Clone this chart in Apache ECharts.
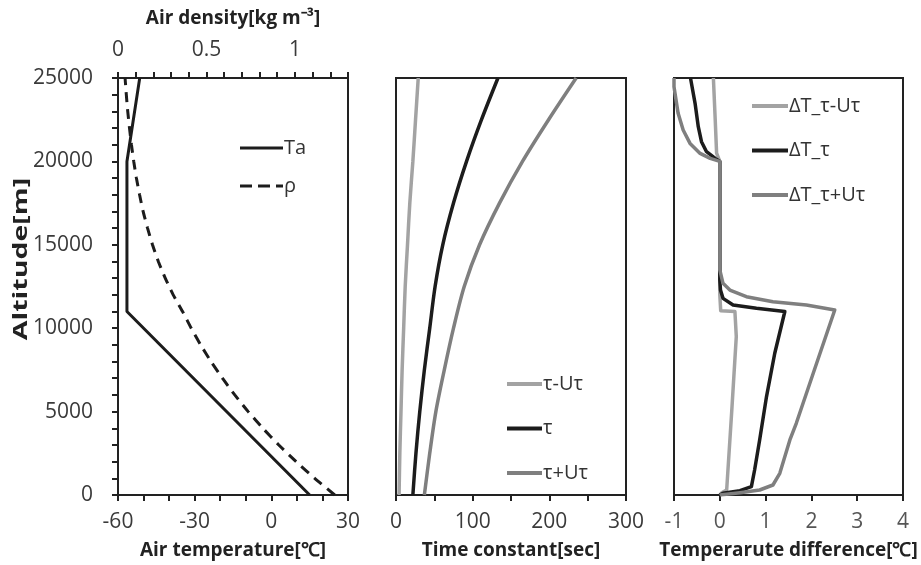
<!DOCTYPE html>
<html>
<head>
<meta charset="utf-8">
<script src="https://cdn.jsdelivr.net/npm/echarts@6/dist/echarts.min.js"></script>
<style>
html,body{margin:0;padding:0;background:#fff;}
#chart{width:921px;height:565px;}
</style>
</head>
<body>
<div id="chart"></div>
<script>
// ---- Panel 1: air temperature and density vs altitude ----
const altTa = [0, 11000, 20000, 25000];
const ta = [15, -56.5, -56.5, -51.5];
const altRho = [0,1000,2000,3000,4000,5000,6000,7000,8000,9000,10000,11000,12000,13000,14000,15000,16000,17000,18000,19000,20000,21000,22000,23000,24000,25000];
const rho = [1.225,1.112,1.007,0.909,0.819,0.736,0.660,0.590,0.526,0.467,0.414,0.365,0.312,0.267,0.228,0.195,0.167,0.142,0.122,0.104,0.089,0.076,0.065,0.055,0.047,0.040];

// ---- Panel 2: time constants ----
const altTau = [0,2500,5000,7500,10000,12500,15000,17500,20000,22500,25000];
const tauLow = [4,5,6.5,8,10,12,15,18,22,25.5,29];
const tauMid = [22,26,31,37,44,51,61,75,92,111.5,133];
const tauHigh = [37,44,52,63,75,89,109,135,165,199,235];

// ---- Panel 3: temperature differences ----
const altDLow = [0,150,300,5000,9500,11000,11050,12000,20000,20500,22500,25000];
const dLow = [0,0.05,0.15,0.26,0.36,0.33,0.02,0,0,-0.07,-0.1,-0.14];
const altDMid = [0,100,260,500,1500,3300,5900,8500,11000,11190,11390,11790,12290,12900,20000,20180,20580,21180,22080,23480,25000];
const dMid = [0,0.07,0.44,0.69,0.76,0.87,1.02,1.2,1.42,0.8,0.29,0.07,0.015,0,0,-0.1,-0.29,-0.4,-0.47,-0.54,-0.64];
const altDHigh = [0,140,300,600,1300,3300,4300,7300,11090,11390,11590,11890,12290,12690,13500,20000,20180,20480,21080,21880,22880,24480,25000];
const dHigh = [0,0.44,0.87,1.16,1.31,1.53,1.67,2.04,2.51,1.89,1.16,0.58,0.22,0.07,0,0,-0.21,-0.43,-0.65,-0.8,-0.91,-1.0,-1.0];

// tick / label settings
const yTicks = {min: 0, max: 25000, interval: 5000};
const tempTicks = {min: -60, max: 30, interval: 30};
const rhoTicks = {min: 0, max: 1.3, interval: 0.1};
const tcTicks = {min: 0, max: 300, interval: 50};
const dtTicks = {min: -1, max: 4, interval: 1};

const FONT = '"Open Sans"';
const LIGHT = '#a3a3a3', DARK = '#1c1c1c', MID = '#7f7f7f';

function pairs(xs, ys) { return xs.map((v, i) => [v, ys[i]]); }

const axisLineStyle = {show: true, onZero: false, lineStyle: {color: '#222', width: 2}};
const tickStyle = {show: true, length: 6, lineStyle: {color: '#222', width: 2}};
const labelStyle = {color: '#3a3a3a', fontSize: 21, fontFamily: FONT};
const nameStyle = {color: '#222', fontSize: 19, fontWeight: 'bold', fontFamily: FONT};
const legendText = {fontSize: 20, color: '#333', fontFamily: FONT, lineHeight: 14, padding: [0, 0, 0, -4]};

const chart = echarts.init(document.getElementById('chart'));
const grids = [
  {left: 118, top: 78, width: 230, height: 417},
  {left: 396, top: 78, width: 230, height: 417},
  {left: 674, top: 78, width: 229, height: 417}
].map(g => Object.assign(g, {show: true, borderColor: '#222', borderWidth: 2, containLabel: false}));

const option = {
  animation: false,
  backgroundColor: '#fff',
  grid: grids,
  xAxis: [
    Object.assign({type: 'value', gridIndex: 0, position: 'bottom', name: 'Air temperature[℃]',
      nameLocation: 'middle', nameGap: 46, nameTextStyle: nameStyle,
      axisLine: axisLineStyle, splitLine: {show: false}, axisTick: tickStyle,
      minorTick: {show: true, splitNumber: 3, length: 6, lineStyle: {color: '#222', width: 2}},
      axisLabel: Object.assign({margin: 17}, labelStyle)}, tempTicks),
    Object.assign({type: 'value', gridIndex: 0, position: 'top', name: 'Air density[kg m⁻³]',
      nameLocation: 'middle', nameGap: 50, nameTextStyle: nameStyle,
      axisLine: axisLineStyle, splitLine: {show: false}, axisTick: tickStyle,
      axisLabel: Object.assign({margin: 17, formatter: v => (Math.abs(v * 2 - Math.round(v * 2)) < 1e-6 ? String(Math.round(v * 2) / 2) : '')}, labelStyle)}, rhoTicks),
    Object.assign({type: 'value', gridIndex: 1, position: 'bottom', name: 'Time constant[sec]',
      nameLocation: 'middle', nameGap: 46, nameTextStyle: nameStyle,
      axisLine: axisLineStyle, splitLine: {show: false}, axisTick: tickStyle,
      axisLabel: Object.assign({margin: 17, formatter: v => (v % 100 === 0 ? String(v) : '')}, labelStyle)}, tcTicks),
    Object.assign({type: 'value', gridIndex: 2, position: 'bottom', name: 'Temperarute difference[℃]',
      nameLocation: 'middle', nameGap: 46, nameTextStyle: nameStyle,
      axisLine: axisLineStyle, splitLine: {show: false}, axisTick: tickStyle,
      axisLabel: Object.assign({margin: 17}, labelStyle, {color: '#555'})}, dtTicks)
  ],
  yAxis: [
    Object.assign({type: 'value', gridIndex: 0, axisLine: axisLineStyle, splitLine: {show: false},
      axisTick: tickStyle,
      minorTick: {show: true, splitNumber: 5, length: 6, lineStyle: {color: '#222', width: 2}},
      axisLabel: Object.assign({margin: 25, formatter: v => String(v)}, labelStyle)}, yTicks),
    Object.assign({type: 'value', gridIndex: 1, axisLine: axisLineStyle, splitLine: {show: false},
      axisTick: {show: false}, axisLabel: {show: false}}, yTicks),
    Object.assign({type: 'value', gridIndex: 2, axisLine: axisLineStyle, splitLine: {show: false},
      axisTick: {show: false}, axisLabel: {show: false}}, yTicks)
  ],
  legend: [
    {data: [{name: 'Ta', icon: 'rect'}, {name: 'ρ', icon: 'path://M0,0h12v3h-12z M18,0h12v3h-12z M36,0h7v3h-7z'}],
      orient: 'vertical', left: 240, top: 138, padding: 0, itemWidth: 43, itemHeight: 3, itemGap: 18, textStyle: legendText},
    {data: [{name: 'τ-Uτ', icon: 'rect'}, {name: 'τ', icon: 'rect'}, {name: 'τ+Uτ', icon: 'rect'}],
      orient: 'vertical', left: 507, top: 374, padding: 0, itemWidth: 35, itemHeight: 4, itemGap: 24.5, textStyle: legendText},
    {data: [{name: 'ΔT_τ-Uτ', icon: 'rect'}, {name: 'ΔT_τ', icon: 'rect'}, {name: 'ΔT_τ+Uτ', icon: 'rect'}],
      orient: 'vertical', left: 752, top: 96, padding: 0, itemWidth: 36, itemHeight: 4, itemGap: 24.5, textStyle: legendText}
  ],
  graphic: [
    {type: 'text', x: 22, y: 259, rotation: Math.PI / 2, scaleX: 1.5,
      style: {text: 'Altitude[m]', fill: '#222', font: 'bold 19px ' + FONT, align: 'center', verticalAlign: 'middle'}}
  ],
  series: [
    {name: 'Ta', type: 'line', xAxisIndex: 0, yAxisIndex: 0, data: pairs(ta, altTa), symbol: 'none',
      lineStyle: {color: DARK, width: 3}, itemStyle: {color: DARK}},
    {name: 'ρ', type: 'line', xAxisIndex: 1, yAxisIndex: 0, data: pairs(rho, altRho), symbol: 'none', smooth: 0.2,
      lineStyle: {color: DARK, width: 3, type: [10, 7]}, itemStyle: {color: DARK}},
    {name: 'τ-Uτ', type: 'line', xAxisIndex: 2, yAxisIndex: 1, data: pairs(tauLow, altTau), symbol: 'none', smooth: 0.3,
      lineStyle: {color: LIGHT, width: 3.5}, itemStyle: {color: LIGHT}},
    {name: 'τ', type: 'line', xAxisIndex: 2, yAxisIndex: 1, data: pairs(tauMid, altTau), symbol: 'none', smooth: 0.3,
      lineStyle: {color: DARK, width: 3.5}, itemStyle: {color: DARK}},
    {name: 'τ+Uτ', type: 'line', xAxisIndex: 2, yAxisIndex: 1, data: pairs(tauHigh, altTau), symbol: 'none', smooth: 0.3,
      lineStyle: {color: MID, width: 3.5}, itemStyle: {color: MID}},
    {name: 'ΔT_τ-Uτ', type: 'line', xAxisIndex: 3, yAxisIndex: 2, data: pairs(dLow, altDLow), symbol: 'none',
      lineStyle: {color: LIGHT, width: 3.5, join: 'round'}, itemStyle: {color: LIGHT}},
    {name: 'ΔT_τ', type: 'line', xAxisIndex: 3, yAxisIndex: 2, data: pairs(dMid, altDMid), symbol: 'none',
      lineStyle: {color: DARK, width: 3.5, join: 'round'}, itemStyle: {color: DARK}},
    {name: 'ΔT_τ+Uτ', type: 'line', xAxisIndex: 3, yAxisIndex: 2, data: pairs(dHigh, altDHigh), symbol: 'none',
      lineStyle: {color: MID, width: 3.5, join: 'round'}, itemStyle: {color: MID}}
  ]
};
chart.setOption(option);
</script>
</body>
</html>
